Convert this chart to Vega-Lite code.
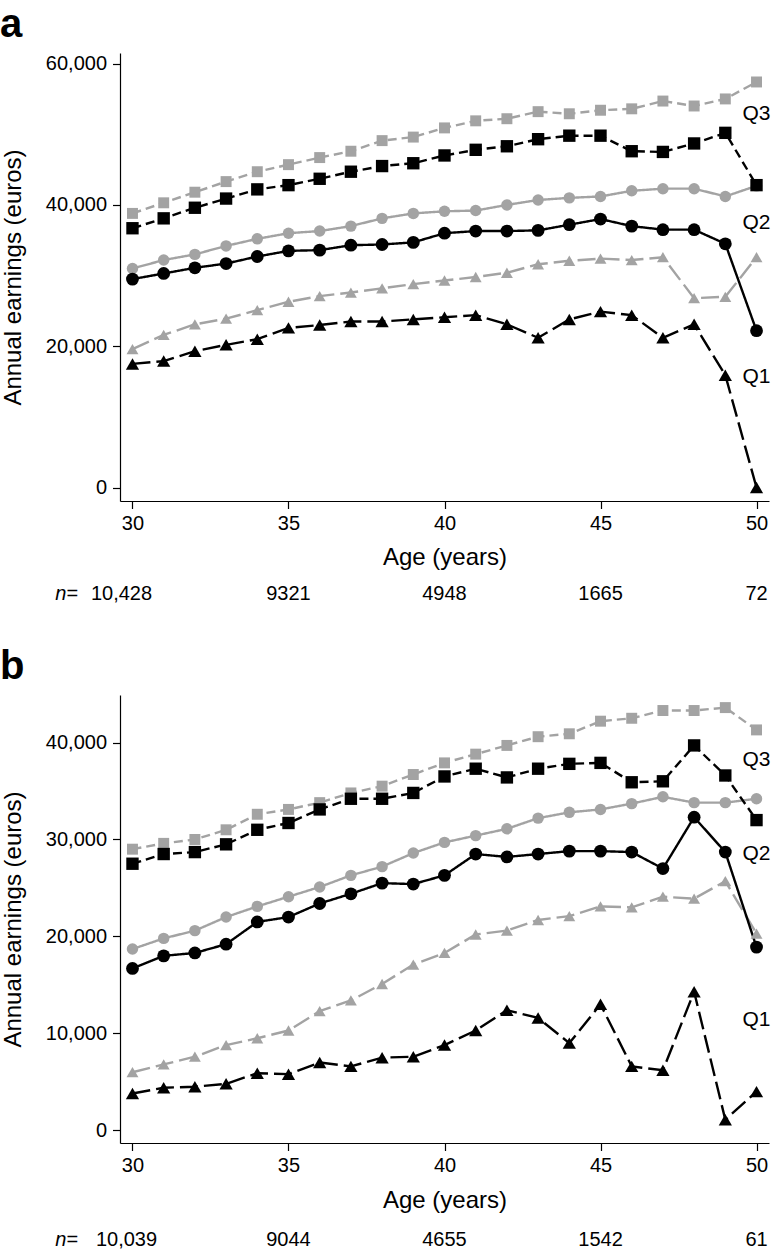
{
  "$schema": "https://vega.github.io/schema/vega-lite/v6.json",
  "padding": {"left": 0, "top": 5, "right": 5, "bottom": 5},
  "config": {
    "font": "Liberation Sans",
    "view": {"stroke": null},
    "axis": {"grid": false, "domainColor": "#000", "tickColor": "#000", "labelColor": "#000", "titleColor": "#000", "labelFontSize": 20, "titleFontSize": 24, "titleFontWeight": "normal", "tickSize": 7.5, "domainWidth": 1.2, "tickWidth": 1.2, "labelPadding": 5},
    "title": {"fontSize": 40, "fontWeight": "bold", "anchor": "start", "frame": "group", "color": "#000", "dx": -120, "offset": 8}
  },
  "spacing": 43,
  "vconcat": [
    {
      "title": "a",
      "width": 649,
      "height": 448,
      "layer": [
        {
          "data": {"values": [
            {"age": 30, "g3": 38800, "b3": 36700, "g2": 31000, "b2": 29500, "g1": 19600, "b1": 17500},
            {"age": 31, "g3": 40300, "b3": 38100, "g2": 32200, "b2": 30300, "g1": 21600, "b1": 17900},
            {"age": 32, "g3": 41800, "b3": 39600, "g2": 33000, "b2": 31100, "g1": 23100, "b1": 19300},
            {"age": 33, "g3": 43300, "b3": 40900, "g2": 34200, "b2": 31700, "g1": 23900, "b1": 20200},
            {"age": 34, "g3": 44700, "b3": 42200, "g2": 35200, "b2": 32700, "g1": 25100, "b1": 21000},
            {"age": 35, "g3": 45700, "b3": 42800, "g2": 36000, "b2": 33500, "g1": 26300, "b1": 22600},
            {"age": 36, "g3": 46700, "b3": 43700, "g2": 36300, "b2": 33600, "g1": 27100, "b1": 23000},
            {"age": 37, "g3": 47600, "b3": 44700, "g2": 37000, "b2": 34300, "g1": 27600, "b1": 23500},
            {"age": 38, "g3": 49100, "b3": 45500, "g2": 38100, "b2": 34400, "g1": 28200, "b1": 23500},
            {"age": 39, "g3": 49600, "b3": 45900, "g2": 38800, "b2": 34700, "g1": 28800, "b1": 23800},
            {"age": 40, "g3": 50900, "b3": 47000, "g2": 39100, "b2": 36000, "g1": 29300, "b1": 24100},
            {"age": 41, "g3": 51900, "b3": 47800, "g2": 39200, "b2": 36300, "g1": 29800, "b1": 24400},
            {"age": 42, "g3": 52200, "b3": 48300, "g2": 40000, "b2": 36300, "g1": 30400, "b1": 23100},
            {"age": 43, "g3": 53200, "b3": 49300, "g2": 40700, "b2": 36400, "g1": 31600, "b1": 21200},
            {"age": 44, "g3": 52900, "b3": 49800, "g2": 41000, "b2": 37200, "g1": 32100, "b1": 23800},
            {"age": 45, "g3": 53400, "b3": 49800, "g2": 41200, "b2": 38000, "g1": 32400, "b1": 24900},
            {"age": 46, "g3": 53600, "b3": 47600, "g2": 42000, "b2": 37000, "g1": 32200, "b1": 24400},
            {"age": 47, "g3": 54700, "b3": 47500, "g2": 42300, "b2": 36500, "g1": 32600, "b1": 21200},
            {"age": 48, "g3": 54000, "b3": 48700, "g2": 42300, "b2": 36500, "g1": 26800, "b1": 23100},
            {"age": 49, "g3": 55000, "b3": 50200, "g2": 41200, "b2": 34500, "g1": 27000, "b1": 15900},
            {"age": 50, "g3": 57400, "b3": 42800, "g2": 42700, "b2": 22200, "g1": 32600, "b1": 0}
          ]},
          "transform": [{"fold": ["g3", "g2", "g1", "b3", "b2", "b1"], "as": ["series", "v"]}],
          "layer": [
            {
              "mark": {"type": "line", "strokeWidth": 2.4},
              "encoding": {
                "x": {"field": "age", "type": "quantitative", "scale": {"domain": [29.6, 50.4], "nice": false, "zero": false}, "axis": {"values": [30, 35, 40, 45, 50], "title": "Age (years)", "titlePadding": 12}},
                "y": {"field": "v", "type": "quantitative", "scale": {"domain": [-1900, 61500], "nice": false, "zero": false}, "axis": {"values": [0, 20000, 40000, 60000], "format": ",d", "title": "Annual earnings (euros)", "titlePadding": 20, "labelPadding": 6}},
                "color": {"field": "series", "type": "nominal", "scale": {"domain": ["g3", "g2", "g1", "b3", "b2", "b1"], "range": ["#a3a3a3", "#a3a3a3", "#a3a3a3", "#000000", "#000000", "#000000"]}, "legend": null},
                "strokeDash": {"field": "series", "type": "nominal", "scale": {"domain": ["g3", "g2", "g1", "b3", "b2", "b1"], "range": [[9, 5], [1, 0], [18, 6], [9, 5], [1, 0], [18, 6]]}, "legend": null}
              }
            },
            {
              "mark": {"type": "point", "filled": true, "opacity": 1, "strokeWidth": 0},
              "encoding": {
                "x": {"field": "age", "type": "quantitative"},
                "y": {"field": "v", "type": "quantitative"},
                "color": {"field": "series", "type": "nominal", "legend": null},
                "shape": {"field": "series", "type": "nominal", "scale": {"domain": ["g3", "g2", "g1", "b3", "b2", "b1"], "range": ["square", "circle", "triangle-up", "square", "circle", "triangle-up"]}, "legend": null},
                "size": {"field": "series", "type": "nominal", "scale": {"domain": ["g3", "g2", "g1", "b3", "b2", "b1"], "range": [120, 175, 150, 120, 175, 150]}, "legend": null}
              }
            }
          ]
        },
        {
          "data": {"values": [
            {"age": 50, "v": 52800, "label": "Q3"},
            {"age": 50, "v": 37500, "label": "Q2"},
            {"age": 50, "v": 15600, "label": "Q1"}
          ]},
          "mark": {"type": "text", "fontSize": 21, "align": "center", "baseline": "middle", "color": "#000"},
          "encoding": {
            "x": {"field": "age", "type": "quantitative"},
            "y": {"field": "v", "type": "quantitative"},
            "text": {"field": "label"}
          }
        },
        {
          "data": {"values": [
            {"age": 30, "n": "10,428"},
            {"age": 35, "n": "9321"},
            {"age": 40, "n": "4948"},
            {"age": 45, "n": "1665"},
            {"age": 50, "n": "72"}
          ]},
          "layer": [
            {
              "transform": [{"filter": "datum.age > 30"}],
              "mark": {"type": "text", "fontSize": 20, "align": "center", "baseline": "middle", "y": "height", "dy": 93, "color": "#000"},
              "encoding": {"x": {"field": "age", "type": "quantitative"}, "text": {"field": "n"}}
            },
            {
              "transform": [{"filter": "datum.age == 30"}],
              "mark": {"type": "text", "fontSize": 20, "align": "center", "baseline": "middle", "y": "height", "dy": 93, "dx": -11, "color": "#000"},
              "encoding": {"x": {"field": "age", "type": "quantitative"}, "text": {"field": "n"}}
            },
            {
              "transform": [{"filter": "datum.age == 30"}],
              "mark": {"type": "text", "text": "n", "fontStyle": "italic", "fontSize": 20, "align": "right", "baseline": "middle", "y": "height", "dy": 93, "dx": -66, "color": "#000"},
              "encoding": {"x": {"field": "age", "type": "quantitative"}}
            },
            {
              "transform": [{"filter": "datum.age == 30"}],
              "mark": {"type": "text", "text": "=", "fontSize": 20, "align": "left", "baseline": "middle", "y": "height", "dy": 93, "dx": -66, "color": "#000"},
              "encoding": {"x": {"field": "age", "type": "quantitative"}}
            }
          ]
        }
      ]
    },
    {
      "title": "b",
      "width": 649,
      "height": 448,
      "layer": [
        {
          "data": {"values": [
            {"age": 30, "g3": 29000, "b3": 27500, "g2": 18700, "b2": 16700, "g1": 6000, "b1": 3800},
            {"age": 31, "g3": 29600, "b3": 28500, "g2": 19800, "b2": 18000, "g1": 6800, "b1": 4400},
            {"age": 32, "g3": 30000, "b3": 28700, "g2": 20600, "b2": 18300, "g1": 7600, "b1": 4500},
            {"age": 33, "g3": 31000, "b3": 29500, "g2": 22000, "b2": 19200, "g1": 8800, "b1": 4800},
            {"age": 34, "g3": 32600, "b3": 31000, "g2": 23100, "b2": 21500, "g1": 9500, "b1": 5900},
            {"age": 35, "g3": 33100, "b3": 31700, "g2": 24100, "b2": 22000, "g1": 10300, "b1": 5800},
            {"age": 36, "g3": 33800, "b3": 33100, "g2": 25100, "b2": 23400, "g1": 12300, "b1": 7000},
            {"age": 37, "g3": 34800, "b3": 34200, "g2": 26300, "b2": 24400, "g1": 13400, "b1": 6600},
            {"age": 38, "g3": 35500, "b3": 34200, "g2": 27200, "b2": 25500, "g1": 15100, "b1": 7500},
            {"age": 39, "g3": 36700, "b3": 34800, "g2": 28600, "b2": 25400, "g1": 17100, "b1": 7600},
            {"age": 40, "g3": 37900, "b3": 36500, "g2": 29700, "b2": 26300, "g1": 18300, "b1": 8800},
            {"age": 41, "g3": 38800, "b3": 37300, "g2": 30400, "b2": 28500, "g1": 20200, "b1": 10300},
            {"age": 42, "g3": 39700, "b3": 36400, "g2": 31100, "b2": 28200, "g1": 20600, "b1": 12400},
            {"age": 43, "g3": 40600, "b3": 37300, "g2": 32200, "b2": 28500, "g1": 21700, "b1": 11600},
            {"age": 44, "g3": 40900, "b3": 37800, "g2": 32800, "b2": 28800, "g1": 22100, "b1": 9000},
            {"age": 45, "g3": 42200, "b3": 37900, "g2": 33100, "b2": 28800, "g1": 23100, "b1": 13000},
            {"age": 46, "g3": 42500, "b3": 35900, "g2": 33700, "b2": 28700, "g1": 23000, "b1": 6600},
            {"age": 47, "g3": 43300, "b3": 36000, "g2": 34400, "b2": 27000, "g1": 24100, "b1": 6200},
            {"age": 48, "g3": 43300, "b3": 39700, "g2": 33800, "b2": 32300, "g1": 23900, "b1": 14300},
            {"age": 49, "g3": 43600, "b3": 36600, "g2": 33800, "b2": 28700, "g1": 25700, "b1": 1100},
            {"age": 50, "g3": 41300, "b3": 32000, "g2": 34200, "b2": 18900, "g1": 20300, "b1": 4000}
          ]},
          "transform": [{"fold": ["g3", "g2", "g1", "b3", "b2", "b1"], "as": ["series", "v"]}],
          "layer": [
            {
              "mark": {"type": "line", "strokeWidth": 2.4},
              "encoding": {
                "x": {"field": "age", "type": "quantitative", "scale": {"domain": [29.6, 50.4], "nice": false, "zero": false}, "axis": {"values": [30, 35, 40, 45, 50], "title": "Age (years)", "titlePadding": 13}},
                "y": {"field": "v", "type": "quantitative", "scale": {"domain": [-1300, 44900], "nice": false, "zero": false}, "axis": {"values": [0, 10000, 20000, 30000, 40000], "format": ",d", "title": "Annual earnings (euros)", "titlePadding": 20, "labelPadding": 6}},
                "color": {"field": "series", "type": "nominal", "scale": {"domain": ["g3", "g2", "g1", "b3", "b2", "b1"], "range": ["#a3a3a3", "#a3a3a3", "#a3a3a3", "#000000", "#000000", "#000000"]}, "legend": null},
                "strokeDash": {"field": "series", "type": "nominal", "scale": {"domain": ["g3", "g2", "g1", "b3", "b2", "b1"], "range": [[9, 5], [1, 0], [18, 6], [9, 5], [1, 0], [18, 6]]}, "legend": null}
              }
            },
            {
              "mark": {"type": "point", "filled": true, "opacity": 1, "strokeWidth": 0},
              "encoding": {
                "x": {"field": "age", "type": "quantitative"},
                "y": {"field": "v", "type": "quantitative"},
                "color": {"field": "series", "type": "nominal", "legend": null},
                "shape": {"field": "series", "type": "nominal", "scale": {"domain": ["g3", "g2", "g1", "b3", "b2", "b1"], "range": ["square", "circle", "triangle-up", "square", "circle", "triangle-up"]}, "legend": null},
                "size": {"field": "series", "type": "nominal", "scale": {"domain": ["g3", "g2", "g1", "b3", "b2", "b1"], "range": [120, 175, 150, 120, 175, 150]}, "legend": null}
              }
            }
          ]
        },
        {
          "data": {"values": [
            {"age": 50, "v": 38200, "label": "Q3"},
            {"age": 50, "v": 28500, "label": "Q2"},
            {"age": 50, "v": 11400, "label": "Q1"}
          ]},
          "mark": {"type": "text", "fontSize": 21, "align": "center", "baseline": "middle", "color": "#000"},
          "encoding": {
            "x": {"field": "age", "type": "quantitative"},
            "y": {"field": "v", "type": "quantitative"},
            "text": {"field": "label"}
          }
        },
        {
          "data": {"values": [
            {"age": 30, "n": "10,039"},
            {"age": 35, "n": "9044"},
            {"age": 40, "n": "4655"},
            {"age": 45, "n": "1542"},
            {"age": 50, "n": "61"}
          ]},
          "layer": [
            {
              "transform": [{"filter": "datum.age > 30"}],
              "mark": {"type": "text", "fontSize": 20, "align": "center", "baseline": "middle", "y": "height", "dy": 97, "color": "#000"},
              "encoding": {"x": {"field": "age", "type": "quantitative"}, "text": {"field": "n"}}
            },
            {
              "transform": [{"filter": "datum.age == 30"}],
              "mark": {"type": "text", "fontSize": 20, "align": "center", "baseline": "middle", "y": "height", "dy": 97, "dx": -6, "color": "#000"},
              "encoding": {"x": {"field": "age", "type": "quantitative"}, "text": {"field": "n"}}
            },
            {
              "transform": [{"filter": "datum.age == 30"}],
              "mark": {"type": "text", "text": "n", "fontStyle": "italic", "fontSize": 20, "align": "right", "baseline": "middle", "y": "height", "dy": 97, "dx": -66, "color": "#000"},
              "encoding": {"x": {"field": "age", "type": "quantitative"}}
            },
            {
              "transform": [{"filter": "datum.age == 30"}],
              "mark": {"type": "text", "text": "=", "fontSize": 20, "align": "left", "baseline": "middle", "y": "height", "dy": 97, "dx": -66, "color": "#000"},
              "encoding": {"x": {"field": "age", "type": "quantitative"}}
            }
          ]
        }
      ]
    }
  ]
}
